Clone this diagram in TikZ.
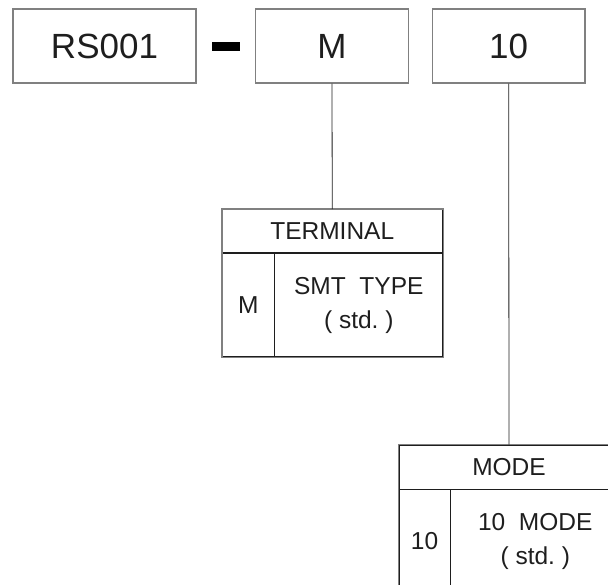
\documentclass[tikz,border=0pt]{standalone}
\usepackage{fontspec}
\setmainfont{Liberation Sans}
\usetikzlibrary{positioning}
\definecolor{FrameGray}{RGB}{128,128,128}
\definecolor{InkBlack}{RGB}{30,30,30}

\begin{document}
\begin{tikzpicture}[x=1pt,y=-1pt,
  codebox/.style={draw=FrameGray,line width=1.3pt,minimum height=74pt,inner sep=0pt,text=InkBlack,font=\fontsize{35}{40}\selectfont},
  cell/.style={draw=InkBlack,line width=.8pt,inner sep=0pt,text=InkBlack,font=\fontsize{24.5}{34}\selectfont,align=center},
  frame/.style={draw=FrameGray,line width=1.3pt},
  link/.style={draw=InkBlack,line width=.8pt}]
\useasboundingbox (0,0) rectangle (608,585);
% code boxes
\node[codebox,minimum width=183pt] (series) at (104.5,46) {RS001};
\node[codebox,minimum width=153pt] (term) at (332,46) {M};
\node[codebox,minimum width=152.5pt] (mode) at (508.7,46) {10};
\fill[black] (212,42) rectangle (240,51);
% terminal table
\node[cell,minimum width=219.5pt,minimum height=43pt] (termhead) at (332.25,231) {TERMINAL};
\node[cell,minimum width=51.5pt,minimum height=103.5pt,anchor=north west] (termkey) at (termhead.south west) {M};
\node[cell,minimum width=168pt,minimum height=103.5pt,anchor=north west] (termval) at (termkey.north east) {SMT~~TYPE\\(~std.~)};
\draw[frame] (termhead.north west) rectangle (termval.south east);
% mode table
\node[cell,minimum width=220pt,minimum height=44pt] (modehead) at (509,467) {MODE};
\node[cell,minimum width=51pt,minimum height=103pt,anchor=north west] (modekey) at (modehead.south west) {10};
\node[cell,minimum width=169pt,minimum height=103pt,anchor=north west] (modeval) at (modekey.north east) {10~~MODE\\(~std.~)};
\draw[frame] (modehead.north west) rectangle (modeval.south east);
% links
\draw[link] (term.south) -- (termhead.north);
\draw[link] (mode.south) -- (modehead.north);
\end{tikzpicture}
\end{document}
